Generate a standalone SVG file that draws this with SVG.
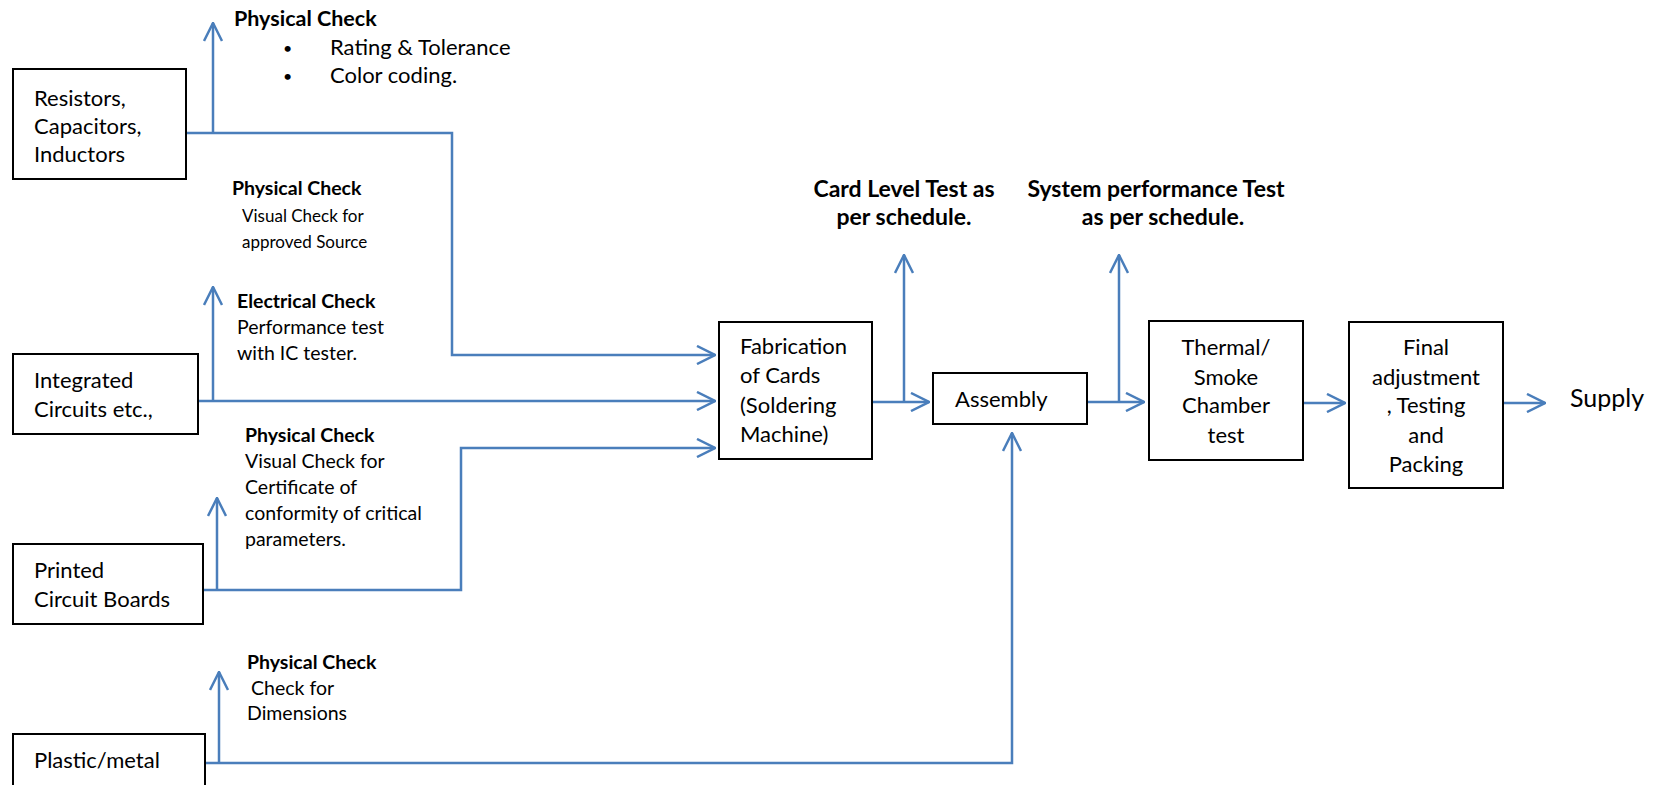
<svg xmlns="http://www.w3.org/2000/svg" width="1656" height="785" viewBox="0 0 1656 785">
<style>
.box{fill:#fff;stroke:#000;stroke-width:2}
.t{font-family:Lato,"Liberation Sans",sans-serif;font-size:22px;fill:#000}
.s{font-family:Lato,"Liberation Sans",sans-serif;font-size:19.5px;fill:#000}
.b{font-family:Lato,"Liberation Sans",sans-serif;font-size:19.5px;font-weight:bold;fill:#000}
.bl{font-family:Lato,"Liberation Sans",sans-serif;font-size:23px;font-weight:bold;fill:#000}
.c{text-anchor:middle}
.ln{fill:none;stroke:#4a7ebb;stroke-width:2.5}
.ar{marker-end:url(#arr)}
</style>
<defs>
<marker id="arr" viewBox="0 0 20 20" refX="19" refY="10" markerWidth="20" markerHeight="20" markerUnits="userSpaceOnUse" orient="auto">
<path d="M1,1 L19,10 L1,19" fill="none" stroke="#4a7ebb" stroke-width="2.5"/>
</marker>
</defs>
<rect width="1656" height="785" fill="#fff"/>
<g id="connectors">
<path class="ln ar" d="M186,133 H452 V355 H715"/>
<path class="ln ar" d="M213,133 V23"/>
<path class="ln ar" d="M198,401 H715"/>
<path class="ln ar" d="M213,401 V287"/>
<path class="ln ar" d="M203,590 H461 V448 H715"/>
<path class="ln ar" d="M217,590 V498"/>
<path class="ln ar" d="M205,763 H1012 V433"/>
<path class="ln ar" d="M219,763 V672"/>
<path class="ln ar" d="M872,402 H929"/>
<path class="ln ar" d="M904,402 V255"/>
<path class="ln ar" d="M1087,402 H1144"/>
<path class="ln ar" d="M1119,402 V255"/>
<path class="ln ar" d="M1303,403 H1345"/>
<path class="ln ar" d="M1503,403 H1545"/>
</g>
<g id="resistors">
<rect class="box" x="13" y="69" width="173" height="110"/>
<text class="t" x="34" y="106">Resistors,</text>
<text class="t" x="34" y="134">Capacitors,</text>
<text class="t" x="34" y="162">Inductors</text>
</g>
<g id="ic">
<rect class="box" x="13" y="354" width="185" height="80"/>
<text class="t" x="34" y="388">Integrated</text>
<text class="t" x="34" y="417">Circuits etc.,</text>
</g>
<g id="pcb">
<rect class="box" x="13" y="544" width="190" height="80"/>
<text class="t" x="34" y="578">Printed</text>
<text class="t" x="34" y="607">Circuit Boards</text>
</g>
<g id="plastic">
<rect class="box" x="13" y="734" width="192" height="60"/>
<text class="t" x="34" y="768">Plastic/metal</text>
</g>
<g id="fabrication">
<rect class="box" x="719" y="322" width="153" height="137"/>
<text class="t" x="740" y="354">Fabrication</text>
<text class="t" x="740" y="383">of Cards</text>
<text class="t" x="740" y="413">(Soldering</text>
<text class="t" x="740" y="442">Machine)</text>
</g>
<g id="assembly">
<rect class="box" x="933" y="373" width="154" height="51"/>
<text class="t" x="955" y="407">Assembly</text>
</g>
<g id="thermal">
<rect class="box" x="1149" y="321" width="154" height="139"/>
<text class="t c" x="1226" y="355">Thermal/</text>
<text class="t c" x="1226" y="385">Smoke</text>
<text class="t c" x="1226" y="413">Chamber</text>
<text class="t c" x="1226" y="443">test</text>
</g>
<g id="final">
<rect class="box" x="1349" y="322" width="154" height="166"/>
<text class="t c" x="1426" y="355">Final</text>
<text class="t c" x="1426" y="385">adjustment</text>
<text class="t c" x="1426" y="413">, Testing</text>
<text class="t c" x="1426" y="443">and</text>
<text class="t c" x="1426" y="472">Packing</text>
</g>
<g id="supply">
<text class="t" x="1570" y="407" style="font-size:25px">Supply</text>
</g>
<g id="labels">
<text class="b" x="234" y="26" style="font-size:21.5px">Physical Check</text>
<text class="s" x="283" y="54" style="font-size:16px">•</text>
<text class="t" x="330" y="55">Rating &amp; Tolerance</text>
<text class="s" x="283" y="82" style="font-size:16px">•</text>
<text class="t" x="330" y="83">Color coding.</text>
<text class="b" x="232" y="195">Physical Check</text>
<text class="s" x="242" y="222" style="font-size:17px">Visual Check for</text>
<text class="s" x="242" y="248" style="font-size:17px">approved Source</text>
<text class="b" x="237" y="308">Electrical Check</text>
<text class="s" x="237" y="334">Performance test</text>
<text class="s" x="237" y="360">with IC tester.</text>
<text class="b" x="245" y="442">Physical Check</text>
<text class="s" x="245" y="468">Visual Check for</text>
<text class="s" x="245" y="494">Certificate of</text>
<text class="s" x="245" y="520">conformity of critical</text>
<text class="s" x="245" y="546">parameters.</text>
<text class="b" x="247" y="669">Physical Check</text>
<text class="s" x="251" y="695">Check for</text>
<text class="s" x="247" y="720">Dimensions</text>
<text class="bl c" x="904" y="197">Card Level Test as</text>
<text class="bl c" x="904" y="225">per schedule.</text>
<text class="bl c" x="1156" y="197">System performance Test</text>
<text class="bl c" x="1163" y="225">as per schedule.</text>
</g>
</svg>
